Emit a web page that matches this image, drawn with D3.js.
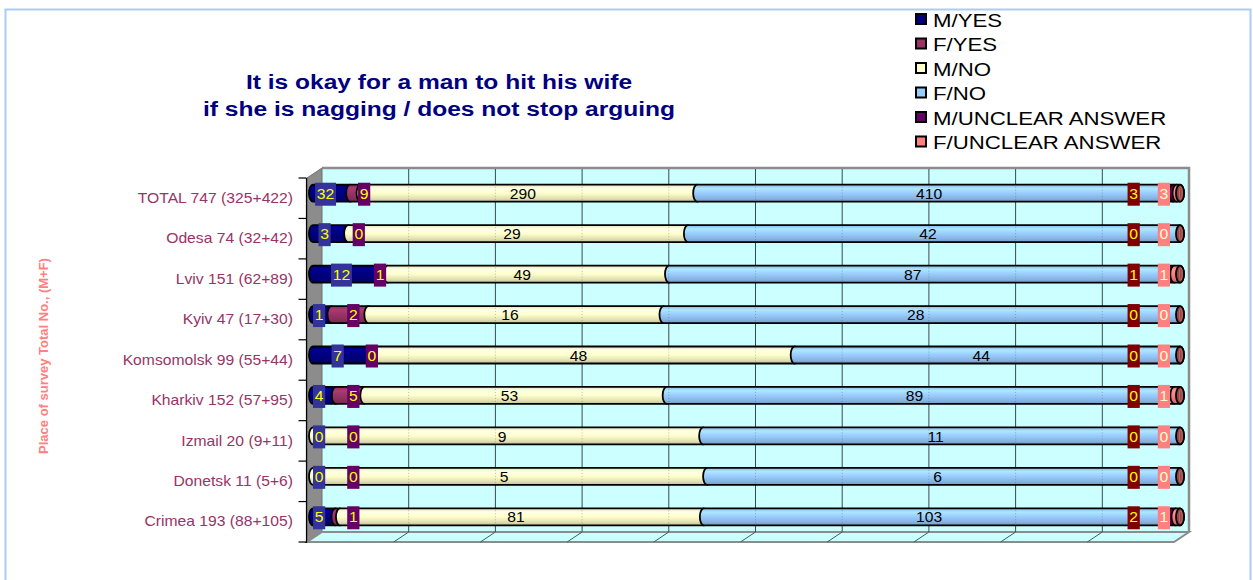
<!DOCTYPE html>
<html>
<head>
<meta charset="utf-8">
<script src="https://cdn.jsdelivr.net/npm/d3@7"></script>
<style>
  body { margin: 0; background: #ffffff; }
  svg { display: block; font-family: Arial, "Liberation Sans", sans-serif; }
</style>
</head>
<body>
<svg id="chart" width="1253" height="580"></svg>
<script>
// ---------------- DATA ----------------
const categories = [
  "TOTAL 747 (325+422)", "Odesa 74 (32+42)", "Lviv 151 (62+89)", "Kyiv 47 (17+30)",
  "Komsomolsk 99 (55+44)", "Kharkiv 152 (57+95)", "Izmail 20 (9+11)", "Donetsk 11 (5+6)",
  "Crimea 193 (88+105)"
];
const seriesNames = ["M/YES", "F/YES", "M/NO", "F/NO", "M/UNCLEAR ANSWER", "F/UNCLEAR ANSWER"];
const mYes     = [32, 3, 12, 1, 7, 4, 0, 0, 5];
const fYes     = [9, 0, 1, 2, 0, 5, 0, 0, 1];
const mNo      = [290, 29, 49, 16, 48, 53, 9, 5, 81];
const fNo      = [410, 42, 87, 28, 44, 89, 11, 6, 103];
const mUnclear = [3, 0, 1, 0, 0, 0, 0, 0, 2];
const fUnclear = [3, 0, 1, 0, 0, 1, 0, 0, 1];
const xTickValues = [0, 0.1, 0.2, 0.3, 0.4, 0.5, 0.6, 0.7, 0.8, 0.9, 1];
const titleLines = ["It is okay for a man to hit his wife", "if she is nagging / does not stop arguing"];
const axisTitle = "Place of survey Total No., (M+F)";

// ---------------- STYLE ----------------
const seriesColors = ["#000080", "#993366", "#FFFFCC", "#99CCFF", "#660066", "#FF8080"];
const labelBg = ["#333399", "#660066", null, null, "#800000", "#FF8080"];
const labelFg = ["#FFFF00", "#FFFF00", "#000000", "#000000", "#FFFF00", "#FFFFCC"];

const svg = d3.select("#chart");
const front = { left: 307, right: 1174, top: 178, bottom: 542 };
const depth = { dx: 15, dy: -10 };
const barShift = { dx: 6, dy: -5 };
const SX = 1.12; // horizontal text stretch of the original rendering

const x = d3.scaleLinear().domain([0, 1]).range([front.left, front.right]);
const y = d3.scaleBand().domain(categories).range([front.top, front.bottom]).padding(0);
const barH = 17, ry = barH / 2, rx = 4;

const seriesData = [mYes, fYes, mNo, fNo, mUnclear, fUnclear];
const rows = categories.map((c, i) => {
  const r = { cat: c };
  seriesNames.forEach((s, k) => r[s] = seriesData[k][i]);
  return r;
});
const stacked = d3.stack().keys(seriesNames).offset(d3.stackOffsetExpand)(rows);

// outer border
svg.append("rect").attr("x", 5.5).attr("y", 9.5).attr("width", 1245).attr("height", 620)
  .attr("fill", "none").attr("stroke", "#A9CDF2").attr("stroke-width", 2);

// gradients
const defs = svg.append("defs");
seriesColors.forEach((c, k) => {
  const g = defs.append("linearGradient").attr("id", "grad" + k)
    .attr("x1", 0).attr("y1", 0).attr("x2", 0).attr("y2", 1);
  const base = d3.color(c);
  [[0, base.darker(0.3)], [0.22, base.brighter(0.35)], [0.5, base], [0.8, base.darker(0.35)], [1, base.darker(0.8)]]
    .forEach(([o, col]) => g.append("stop").attr("offset", o).attr("stop-color", col.formatHex()));
});

// ---------------- 3D FRAME ----------------
const bx = v => x(v) + depth.dx;            // back-wall x
const backTop = front.top + depth.dy, backBottom = front.bottom + depth.dy;

svg.append("rect").attr("x", bx(0)).attr("y", backTop).attr("width", bx(1) - bx(0))
  .attr("height", backBottom - backTop).attr("fill", "#CCFFFF");
svg.append("path")
  .attr("d", `M${x(0)},${front.top} L${bx(0)},${backTop} L${bx(0)},${backBottom} L${x(0)},${front.bottom} Z`)
  .attr("fill", "#8C8C8C").attr("stroke", "#6E6E6E").attr("stroke-width", 1);
svg.append("path")
  .attr("d", `M${x(0)},${front.bottom} L${bx(0)},${backBottom} L${bx(1)},${backBottom} L${x(1)},${front.bottom} Z`)
  .attr("fill", "#CCFFFF").attr("stroke", "#8C8C8C").attr("stroke-width", 2);
svg.append("path")
  .attr("d", `M${bx(0)},${backTop} L${bx(1)},${backTop} L${bx(1)},${backBottom}`)
  .attr("fill", "none").attr("stroke", "#8C8C8C").attr("stroke-width", 2.5);

svg.append("g").selectAll("line").data(xTickValues.filter(t => t > 0 && t < 1)).join("line")
  .attr("x1", d => bx(d)).attr("x2", d => bx(d)).attr("y1", backTop + 1).attr("y2", backBottom)
  .attr("stroke", "#3A4A4A").attr("stroke-width", 1);
svg.append("g").selectAll("line").data(xTickValues.filter(t => t > 0 && t < 1)).join("line")
  .attr("x1", d => bx(d)).attr("x2", d => x(d)).attr("y1", backBottom).attr("y2", front.bottom)
  .attr("stroke", "#4A5A5A").attr("stroke-width", 1);

// ---------------- BARS ----------------
const bxBar = v => x(v) + barShift.dx;
const cyOf = cat => y(cat) + y.bandwidth() / 2 + barShift.dy;
const capColor = d3.color(seriesColors[seriesColors.length - 1]).darker(1.6).formatHex();
const capRing = d3.color(seriesColors[seriesColors.length - 1]).darker(0.6).formatHex();

const barsG = svg.append("g");
categories.forEach((cat, i) => {
  const cy = cyOf(cat);
  stacked.forEach((layer, k) => {
    const [a0, b0] = layer[i];
    if (b0 - a0 <= 0) return;
    const a = bxBar(a0), b = bxBar(b0);
    barsG.append("path")
      .attr("d", `M${a},${cy - ry} L${b},${cy - ry} A${rx},${ry} 0 0 1 ${b},${cy + ry} L${a},${cy + ry} A${rx},${ry} 0 0 1 ${a},${cy - ry} Z`)
      .attr("fill", `url(#grad${k})`).attr("stroke", "#000").attr("stroke-width", 1.8);
  });
  const end = bxBar(stacked[stacked.length - 1][i][1]);
  barsG.append("ellipse").attr("cx", end).attr("cy", cy).attr("rx", rx).attr("ry", ry)
    .attr("fill", capColor).attr("stroke", "#000").attr("stroke-width", 1.8);
  barsG.append("ellipse").attr("cx", end + 0.8).attr("cy", cy).attr("rx", rx * 0.35).attr("ry", ry * 0.75)
    .attr("fill", "none").attr("stroke", capRing).attr("stroke-width", 1);
});
categories.forEach(cat => {
  const cy = cyOf(cat);
  svg.append("g").selectAll("line").data(xTickValues.filter(t => t > 0 && t < 1)).join("line")
    .attr("x1", d => bx(d)).attr("x2", d => bx(d)).attr("y1", cy - ry + 2).attr("y2", cy + ry - 1)
    .attr("stroke", "rgba(70,70,70,0.35)").attr("stroke-width", 1).attr("stroke-dasharray", "1,2");
});

// ---------------- DATA LABELS ----------------
const LFS = 14;
const labW = v => String(v).length * LFS * 0.556 * SX + 3.5;
const labH = 23;
const labelsG = svg.append("g");
categories.forEach((cat, i) => {
  const cy = cyOf(cat);
  const pos = [];
  stacked.forEach((layer, k) => {
    const [a0, b0] = layer[i];
    pos[k] = { v: seriesData[k][i], cx: x((a0 + b0) / 2), w: labW(seriesData[k][i]) };
  });
  pos[0].left = Math.max(pos[0].cx - pos[0].w / 2, x(0) + 6);
  pos[1].left = Math.max(pos[1].cx - pos[1].w / 2, pos[0].left + pos[0].w + 22);
  pos[5].left = Math.min(pos[5].cx + pos[5].w / 2, x(1) - 4) - pos[5].w;
  pos[4].left = Math.min(pos[4].cx + pos[4].w / 2, pos[5].left - 18) - pos[4].w;
  pos[2].left = pos[2].cx - pos[2].w / 2;
  pos[3].left = pos[3].cx - pos[3].w / 2;
  pos.forEach((p, k) => {
    const g = labelsG.append("g");
    if (labelBg[k]) {
      g.append("rect").attr("x", p.left).attr("y", cy - labH / 2 + 1).attr("width", p.w).attr("height", labH)
        .attr("fill", labelBg[k]);
    }
    g.append("text")
      .attr("transform", `translate(${p.left + p.w / 2},${cy + 1}) scale(${SX},1)`)
      .attr("text-anchor", "middle").attr("dominant-baseline", "central")
      .attr("font-size", LFS).attr("fill", labelFg[k]).text(p.v);
  });
});

// ---------------- AXIS ----------------
const axisX = front.left - 0.5;
svg.append("line").attr("x1", axisX).attr("x2", axisX).attr("y1", front.top).attr("y2", front.bottom + 1)
  .attr("stroke", "#000").attr("stroke-width", 1.2);
svg.append("g").selectAll("line").data(d3.range(categories.length + 1)).join("line")
  .attr("x1", axisX - 8).attr("x2", axisX).attr("y1", d => front.top + d * y.step()).attr("y2", d => front.top + d * y.step())
  .attr("stroke", "#000").attr("stroke-width", 1.2);
svg.append("g").selectAll("text").data(categories).join("text")
  .attr("transform", d => `translate(293,${y(d) + y.bandwidth() / 2}) scale(${SX},1)`)
  .attr("text-anchor", "end").attr("dominant-baseline", "central")
  .attr("font-size", 14).attr("fill", "#993366").text(d => d);

svg.append("text")
  .attr("transform", `translate(43,356) rotate(-90)`)
  .attr("text-anchor", "middle").attr("dominant-baseline", "central")
  .attr("font-size", 13).attr("font-weight", "bold").attr("fill", "#FF8080").text(axisTitle);

// ---------------- TITLE ----------------
titleLines.forEach((t, i) => {
  svg.append("text")
    .attr("transform", `translate(439,${89 + i * 27}) scale(1.17,1)`)
    .attr("text-anchor", "middle").attr("font-size", 21).attr("font-weight", "bold")
    .attr("fill", "#000080").text(t);
});

// ---------------- LEGEND ----------------
const legend = svg.append("g");
seriesNames.forEach((s, k) => {
  const cy = 19 + k * 24.5;
  legend.append("rect").attr("x", 916).attr("y", cy - 5).attr("width", 10).attr("height", 10)
    .attr("fill", seriesColors[k]).attr("stroke", "#000").attr("stroke-width", 2);
  legend.append("text").attr("transform", `translate(933,${cy + 1}) scale(1.17,1)`)
    .attr("dominant-baseline", "central").attr("font-size", 19).attr("fill", "#000").text(s);
});
</script>
</body>
</html>
